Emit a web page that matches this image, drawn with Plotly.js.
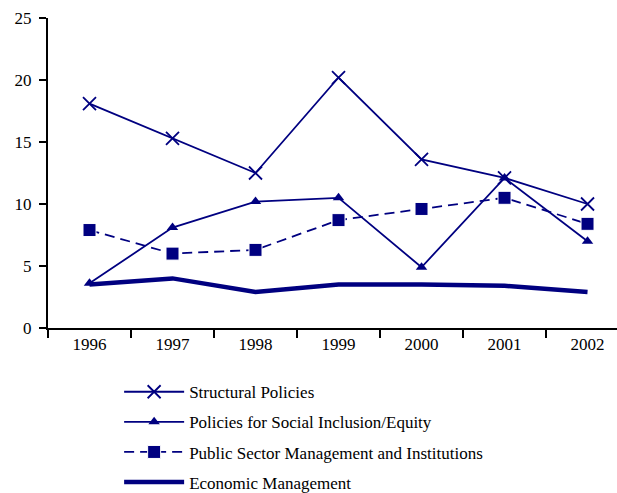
<!DOCTYPE html>
<html><head><meta charset="utf-8">
<script src="https://cdn.plot.ly/plotly-3.0.1.min.js"></script>
</head><body style="margin:0;padding:0;background:#fff"><div id="chart"></div>
<script>
const years = ["1996","1997","1998","1999","2000","2001","2002"];
const structural = [18.1, 15.3, 12.5, 20.2, 13.6, 12.1, 10.0];
const socialInclusion = [3.6, 8.1, 10.2, 10.5, 4.9, 12.1, 7.0];
const publicSector = [7.9, 6.0, 6.3, 8.7, 9.6, 10.5, 8.4];
const economic = [3.5, 4.0, 2.9, 3.5, 3.5, 3.4, 2.9];
const names = ["Structural Policies","Policies for Social Inclusion/Equity","Public Sector Management and Institutions","Economic Management"];
const navy = "#000080";
const fam = "Times New Roman";
const traces = [
  {x: years, y: structural, name: names[0], mode: "lines+markers", legendgroup:"a",
   line:{color:navy, width:1.8}, marker:{symbol:"x-thin", size:13, line:{color:navy, width:1.8}, color:navy}},
  {x: years, y: socialInclusion, name: names[1], mode: "lines+markers", legendgroup:"b",
   line:{color:navy, width:1.8}, marker:{symbol:"triangle-up", size:10, color:navy}},
  {x: years, y: publicSector, name: names[2], mode: "lines+markers", legendgroup:"c",
   line:{color:navy, width:1.8, dash:"10px,6px"}, marker:{symbol:"square", size:13, color:navy, line:{color:"#ffffff", width:1}}},
  {x: years, y: economic, name: names[3], mode: "lines", legendgroup:"d",
   line:{color:navy, width:4.5}}
];
const layout = {
  width: 617, height: 493,
  margin: {l:48, r:0, t:18, b:165, autoexpand:false},
  paper_bgcolor:"#fff", plot_bgcolor:"#fff",
  showlegend: true,
  legend: {x:0.125, y:-0.149, xanchor:"left", yanchor:"top", tracegroupgap:5, itemwidth:60,
           font:{family:fam, size:17, color:"#000"}},
  xaxis: {type:"category", range:[-0.5, 6.355], tickson:"boundaries", ticks:"outside", ticklen:8, tickwidth:2,
          tickcolor:"#000", showline:true, linecolor:"#000", linewidth:2, showgrid:false, zeroline:false,
          tickfont:{family:fam, size:17, color:"#000"}},
  yaxis: {range:[0,25], tickvals:[0,5,10,15,20,25], ticks:"outside", ticklen:7, tickwidth:2, tickcolor:"#000",
          showline:true, linecolor:"#000", linewidth:2, showgrid:false, zeroline:false,
          tickfont:{family:fam, size:17, color:"#000"}, ticklabelstandoff:4}
};
Plotly.newPlot("chart", traces, layout, {displayModeBar:false, staticPlot:true});
</script></body></html>
